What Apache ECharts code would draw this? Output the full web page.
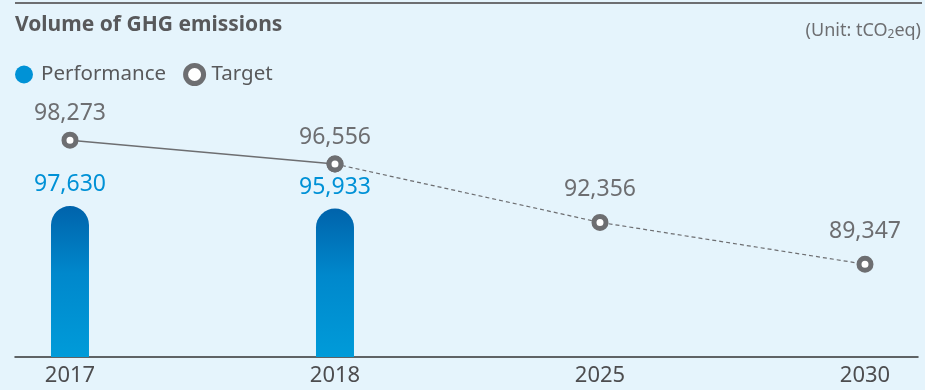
<!DOCTYPE html>
<html><head><meta charset="utf-8">
<script src="https://cdn.jsdelivr.net/npm/echarts@6/dist/echarts.min.js"></script>
<style>html,body{margin:0;padding:0;background:#e5f4fc;}#c{width:925px;height:390px;}</style>
</head><body><div id="c"></div>
<script>
const years = ['2017', '2018', '2025', '2030'];
const performance = [97630, 95933, null, null];
const target = [98273, 96556, 92356, 89347];
const lastActualIndex = 1;

const fmt = v => Number(v).toLocaleString('en-US');
const perfData = performance.map((v, i) => v == null ? null : [i, v]).filter(Boolean);
const solidData = target.slice(0, lastActualIndex + 1).map((v, i) => [i, v]);
const dashedData = target.slice(lastActualIndex).map((v, k) => {
  const i = k + lastActualIndex;
  return { value: [i, v], label: { show: i !== lastActualIndex } };
});

const gray = '#6d6e71';
const font = 'Noto Sans';
const chart = echarts.init(document.getElementById('c'), null, { renderer: 'canvas' });
chart.setOption({
  backgroundColor: '#e5f4fc',
  animation: false,
  textStyle: { fontFamily: font },
  title: [
    { text: 'Volume of GHG emissions', left: 15, top: 15, padding: 0,
      textStyle: { fontFamily: font, fontSize: 21, fontWeight: 'bold', color: '#58595b' } },
    { text: '(Unit: tCO{sub|2}eq)', right: 4, top: 20, padding: 0,
      textStyle: { fontFamily: font, fontSize: 18, fontWeight: 'normal', color: '#6d6e71',
        rich: { sub: { fontSize: 12, verticalAlign: 'bottom', padding: [9, 0, 0, 0], color: '#6d6e71' } } } }
  ],
  legend: {
    left: 15, top: 63, itemWidth: 18, itemHeight: 18, itemGap: 17, padding: 0,
    textStyle: { fontFamily: font, fontSize: 20.5, color: '#58595b', padding: [0, 0, 0, 3] },
    data: [
      { name: 'Performance', icon: 'circle', itemStyle: { color: '#0092d6', borderWidth: 0 } },
      { name: 'Target', icon: 'circle', itemStyle: { color: '#ffffff', borderColor: gray, borderWidth: 5 } }
    ]
  },
  graphic: [
    { type: 'line', shape: { x1: 15, y1: 3, x2: 922, y2: 3 }, style: { stroke: gray, lineWidth: 2 } }
  ],
  grid: { left: 15, right: 7, top: 100, bottom: 33 },
  xAxis: {
    type: 'value', min: -0.2075, max: 3.2,
    splitLine: { show: false },
    axisTick: { show: false },
    axisLine: { show: true, lineStyle: { color: '#333333', width: 1.5 } },
    axisLabel: {
      customValues: years.map((y, i) => i),
      formatter: v => years[Math.round(v)] || '',
      fontFamily: font, fontSize: 22, color: '#4d4d4f', margin: 8
    }
  },
  yAxis: [
    { type: 'value', min: 0, max: 166163, show: false },
    { type: 'value', min: 82671, max: 101160, show: false }
  ],
  series: [
    {
      name: 'Performance', type: 'bar', yAxisIndex: 0, barWidth: 38,
      data: perfData,
      itemStyle: {
        borderRadius: [19, 19, 0, 0],
        color: new echarts.graphic.LinearGradient(0, 0, 0, 1, [
          { offset: 0, color: '#0063ab' },
          { offset: 0.45, color: '#0088cc' },
          { offset: 1, color: '#009bd9' }
        ])
      },
      label: { show: true, position: 'top', distance: 10, formatter: p => fmt(p.value[1]),
        fontFamily: font, fontSize: 23, color: '#0091d6' },
      z: 2
    },
    {
      name: 'Target', type: 'line', yAxisIndex: 1, data: solidData,
      symbol: 'circle', symbolSize: 12,
      itemStyle: { color: '#ffffff', borderColor: gray, borderWidth: 5 },
      lineStyle: { color: gray, width: 1.5, type: 'solid' },
      label: { show: true, position: 'top', distance: 7, formatter: p => fmt(p.value[1]),
        fontFamily: font, fontSize: 23, color: '#6d6e71' },
      z: 4
    },
    {
      name: 'Target', type: 'line', yAxisIndex: 1, data: dashedData,
      symbol: 'circle', symbolSize: 12,
      itemStyle: { color: '#ffffff', borderColor: gray, borderWidth: 5 },
      lineStyle: { color: gray, width: 1.2, type: [4, 3] },
      label: { position: 'top', distance: 13, formatter: p => fmt(p.value[1]),
        fontFamily: font, fontSize: 23, color: '#6d6e71' },
      z: 3
    }
  ]
});
</script>
</body></html>
